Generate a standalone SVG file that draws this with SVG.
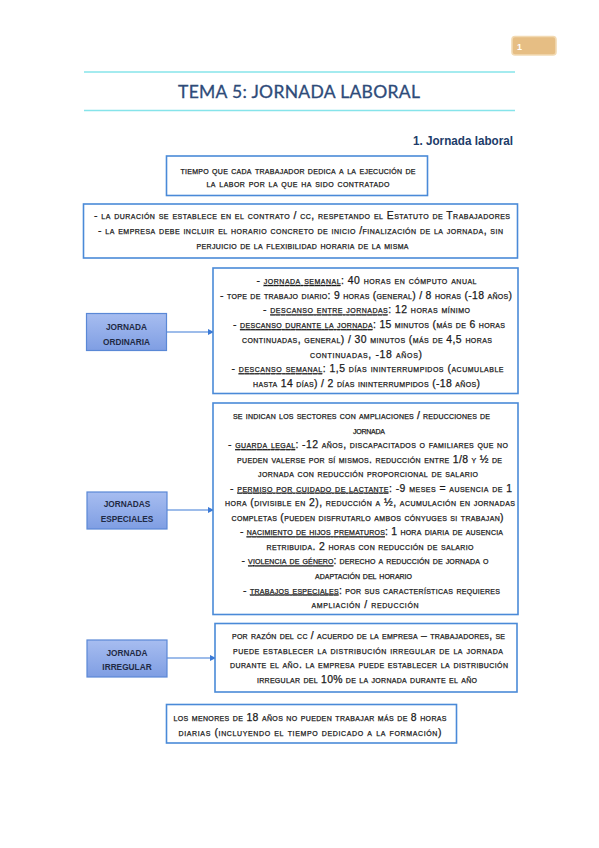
<svg xmlns="http://www.w3.org/2000/svg" width="599" height="848" viewBox="0 0 599 848">
<defs>
<style>
.box{fill:#fff;stroke:#4a8ad8;stroke-width:1.6}
.lbl{stroke:#5a88d6;stroke-width:1.2}
.t{font-family:"Liberation Sans",Arial,sans-serif;font-size:10.4px;font-variant:small-caps;fill:#1a1a1a;stroke:#1a1a1a;stroke-width:0.25;text-anchor:middle}
.u{text-decoration:underline}
.lt{font-family:"Liberation Sans",Arial,sans-serif;font-size:8.3px;font-weight:bold;fill:#1f2a44;text-anchor:middle}
.con{stroke:#3c7ad6;stroke-width:1.2;fill:none}
</style>
<linearGradient id="g" x1="0" y1="0" x2="0" y2="1">
<stop offset="0" stop-color="#a7bdf0"/>
<stop offset="1" stop-color="#7f9ee3"/>
</linearGradient>
<marker id="ah" markerWidth="6" markerHeight="6" refX="5" refY="3" orient="auto" markerUnits="userSpaceOnUse">
<path d="M0,0 L6,3 L0,6 Z" fill="#3c7ad6"/>
</marker>
</defs>
<rect width="599" height="848" fill="#fff"/>
<g id="header">
<rect x="512" y="36.5" width="44" height="18.5" rx="3" fill="#e6be84" stroke="#f2dab3" stroke-width="1.6"/>
<text x="517" y="50" font-family="Liberation Sans,Arial,sans-serif" font-size="9" font-weight="bold" fill="#fff">1</text>
<line x1="84" y1="72" x2="515" y2="72" stroke="#86e4ea" stroke-width="1.6"/>
<line x1="84" y1="110.5" x2="515" y2="110.5" stroke="#86e4ea" stroke-width="1.6"/>
<text x="299" y="98" font-family="Lato,'Open Sans',sans-serif" font-size="17.5" fill="#2e4b79" stroke="#2e4b79" stroke-width="0.3" text-anchor="middle" textLength="242" lengthAdjust="spacing">TEMA 5: JORNADA LABORAL</text>
<text x="513" y="145" font-family="'Liberation Sans',Arial,sans-serif" font-size="13.5" font-weight="bold" fill="#203b68" text-anchor="end" textLength="100" lengthAdjust="spacingAndGlyphs">1. Jornada laboral</text>
</g>
<g id="connectors">
<line class="con" x1="167" y1="332" x2="213" y2="332" marker-end="url(#ah)"/>
<line class="con" x1="167" y1="510" x2="213" y2="510" marker-end="url(#ah)"/>
<line class="con" x1="167" y1="658" x2="215" y2="658" marker-end="url(#ah)"/>
</g>
<g id="definicion">
<rect class="box" x="166.5" y="156" width="261" height="39.5"/>
<text class="t" x="298" y="174" textLength="235" lengthAdjust="spacing">tiempo que cada trabajador dedica a la ejecución de</text>
<text class="t" x="298" y="187" textLength="183" lengthAdjust="spacing">la labor por la que ha sido contratado</text>
</g>
<g id="duracion">
<rect class="box" x="83.5" y="204" width="434" height="54"/>
<text class="t" x="302" y="219" textLength="416" lengthAdjust="spacing">- la duración se establece en el contrato / cc, respetando el Estatuto de Trabajadores</text>
<text class="t" x="300.5" y="234" textLength="405" lengthAdjust="spacing">- la empresa debe incluir el horario concreto de inicio /finalización de la jornada, sin</text>
<text class="t" x="302.5" y="249" textLength="212" lengthAdjust="spacing">perjuicio de la flexibilidad horaria de la misma</text>
</g>
<g id="label-ordinaria">
<rect class="lbl" x="86.5" y="313.5" width="80" height="37" fill="url(#g)"/>
<text class="lt" x="126.5" y="330">JORNADA</text>
<text class="lt" x="126.5" y="345">ORDINARIA</text>
</g>
<g id="ordinaria">
<rect class="box" x="213" y="268" width="305" height="125.5"/>
<text class="t" x="366.5" y="284" textLength="220" lengthAdjust="spacing">- <tspan class="u">jornada semanal</tspan>: 40 horas en cómputo anual</text>
<text class="t" x="366" y="298.7" textLength="292" lengthAdjust="spacing">- tope de trabajo diario: 9 horas (general) / 8 horas (-18 años)</text>
<text class="t" x="366.5" y="313.4" textLength="207" lengthAdjust="spacing">- <tspan class="u">descanso entre jornadas</tspan>: 12 horas mínimo</text>
<text class="t" x="369" y="328.1" textLength="272" lengthAdjust="spacing">- <tspan class="u">descanso durante la jornada</tspan>: 15 minutos (más de 6 horas</text>
<text class="t" x="367" y="342.8" textLength="250" lengthAdjust="spacing">continuadas, general) / 30 minutos (más de 4,5 horas</text>
<text class="t" x="366" y="357.5" textLength="112" lengthAdjust="spacing">continuadas, -18 años)</text>
<text class="t" x="367.5" y="372.2" textLength="272" lengthAdjust="spacing">- <tspan class="u">descanso semanal</tspan>: 1,5 días ininterrumpidos (acumulable</text>
<text class="t" x="366.5" y="386.9" textLength="227" lengthAdjust="spacing">hasta 14 días) / 2 días ininterrumpidos (-18 años)</text>
</g>
<g id="label-especiales">
<rect class="lbl" x="87" y="492" width="80" height="37" fill="url(#g)"/>
<text class="lt" x="127" y="507">JORNADAS</text>
<text class="lt" x="127" y="522">ESPECIALES</text>
</g>
<g id="especiales">
<rect class="box" x="213" y="403" width="305" height="211.5"/>
<text class="t" x="361.5" y="419" textLength="257" lengthAdjust="spacing">se indican los sectores con ampliaciones / reducciones de</text>
<text class="t" x="369" y="433.5" textLength="32" lengthAdjust="spacing">jornada</text>
<text class="t" x="368" y="448.1" textLength="280" lengthAdjust="spacing">- <tspan class="u">guarda legal</tspan>: -12 años, discapacitados o familiares que no</text>
<text class="t" x="369.5" y="462.6" textLength="265" lengthAdjust="spacing">pueden valerse por sí mismos. reducción entre 1/8 y ½ de</text>
<text class="t" x="368" y="477.2" textLength="220" lengthAdjust="spacing">jornada con reducción proporcional de salario</text>
<text class="t" x="371" y="491.7" textLength="282" lengthAdjust="spacing">- <tspan class="u">permiso por cuidado de lactante</tspan>: -9 meses = ausencia de 1</text>
<text class="t" x="370" y="506.2" textLength="290" lengthAdjust="spacing">hora (divisible en 2), reducción a ½, acumulación en jornadas</text>
<text class="t" x="367.5" y="520.8" textLength="272" lengthAdjust="spacing">completas (pueden disfrutarlo ambos cónyuges si trabajan)</text>
<text class="t" x="371.5" y="535.3" textLength="263" lengthAdjust="spacing">- <tspan class="u">nacimiento de hijos prematuros</tspan>: 1 hora diaria de ausencia</text>
<text class="t" x="370" y="549.9" textLength="207" lengthAdjust="spacing">retribuida. 2 horas con reducción de salario</text>
<text class="t" x="365" y="564.4" textLength="247" lengthAdjust="spacing">- <tspan class="u">violencia de género</tspan>: derecho a reducción de jornada o</text>
<text class="t" x="363.5" y="579" textLength="97" lengthAdjust="spacing">adaptación del horario</text>
<text class="t" x="371.5" y="593.5" textLength="257" lengthAdjust="spacing">- <tspan class="u">trabajos especiales</tspan>: por sus características requieres</text>
<text class="t" x="365" y="608" textLength="107" lengthAdjust="spacing">ampliación / reducción</text>
</g>
<g id="label-irregular">
<rect class="lbl" x="87" y="640" width="80" height="37" fill="url(#g)"/>
<text class="lt" x="127" y="656">JORNADA</text>
<text class="lt" x="127" y="670">IRREGULAR</text>
</g>
<g id="irregular">
<rect class="box" x="215" y="623.5" width="302" height="68.5"/>
<text class="t" x="368.5" y="639" textLength="273" lengthAdjust="spacing">por razón del cc / acuerdo de la empresa – trabajadores, se</text>
<text class="t" x="368" y="653.5" textLength="270" lengthAdjust="spacing">puede establecer la distribución irregular de la jornada</text>
<text class="t" x="369" y="668" textLength="278" lengthAdjust="spacing">durante el año. la empresa puede establecer la distribución</text>
<text class="t" x="367" y="682.5" textLength="220" lengthAdjust="spacing">irregular del 10% de la jornada durante el año</text>
</g>
<g id="menores">
<rect class="box" x="166.5" y="704.5" width="290" height="38.5"/>
<text class="t" x="310" y="721" textLength="273" lengthAdjust="spacing">los menores de 18 años no pueden trabajar más de 8 horas</text>
<text class="t" x="310" y="736" textLength="263" lengthAdjust="spacing">diarias (incluyendo el tiempo dedicado a la formación)</text>
</g>
</svg>
